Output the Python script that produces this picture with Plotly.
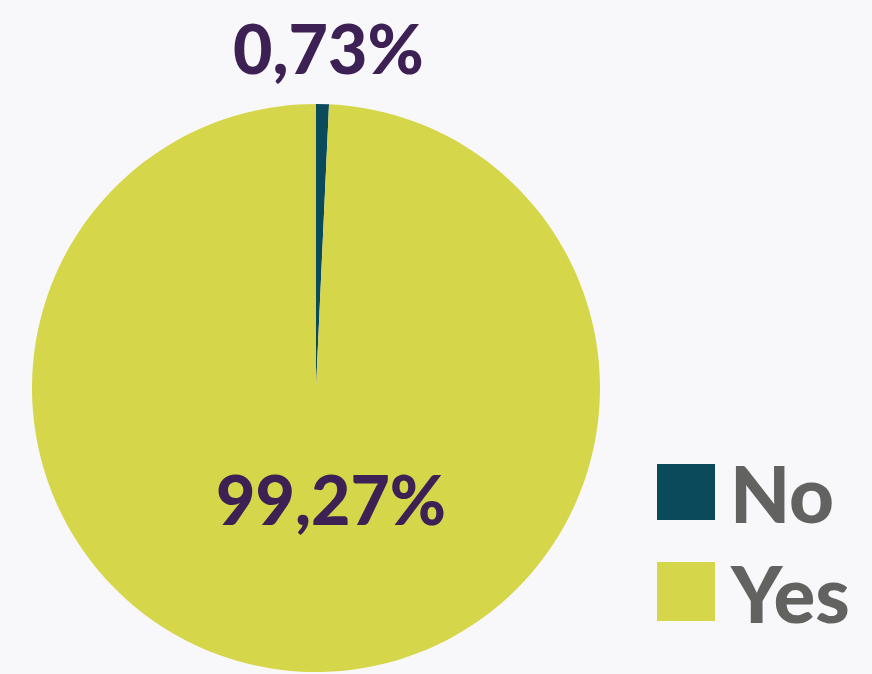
import plotly.graph_objects as go

labels = ["No", "Yes"]
values = [0.73, 99.27]
colors = ["#0a4a5a", "#d5d64a"]

W, H = 872, 674
BG = "#f8f8fb"
LABEL_COLOR = "#3d2054"
LEGEND_TEXT = "#626260"
FONT = "Lato, 'Open Sans', sans-serif"

def px(x):
    return x / W

def py(y):
    return 1 - y / H

fig = go.Figure()
fig.add_trace(go.Pie(
    labels=labels,
    values=values,
    marker=dict(colors=colors, line=dict(width=0)),
    sort=False,
    direction="clockwise",
    rotation=0,
    textinfo="none",
    hoverinfo="label+percent",
    showlegend=False,
    domain=dict(x=[px(32), px(600)], y=[py(672), py(104)]),
))

def fmt(v):
    return f"{v:.2f}".replace(".", ",") + "%"

# percentage labels
label_pos = [(328, 47), (331, 498)]
for v, (x, y) in zip(values, label_pos):
    fig.add_annotation(
        x=px(x), y=py(y), xref="paper", yref="paper",
        text=fmt(v), showarrow=False,
        font=dict(family=FONT, size=68, color=LABEL_COLOR, weight=900),
        xanchor="center", yanchor="middle",
    )

# custom legend
legend_rows = [(464, 520), (562, 621)]
for lab, col, (y0, y1) in zip(labels, colors, legend_rows):
    fig.add_shape(
        type="rect", xref="paper", yref="paper",
        x0=px(657), x1=px(715), y0=py(y1), y1=py(y0),
        fillcolor=col, line=dict(width=0),
    )
    fig.add_annotation(
        x=px(728), y=py((y0 + y1) / 2 + 1), xref="paper", yref="paper",
        text=lab, showarrow=False,
        font=dict(family=FONT, size=78, color=LEGEND_TEXT, weight=900),
        xanchor="left", yanchor="middle",
    )

fig.update_layout(
    width=W, height=H,
    margin=dict(l=0, r=0, t=0, b=0),
    paper_bgcolor=BG, plot_bgcolor=BG,
    showlegend=False,
)

fig.write_html(
    "out.html",
    config={"displayModeBar": False},
    post_script="document.body.style.margin='0';document.body.style.background='#f8f8fb';",
)
